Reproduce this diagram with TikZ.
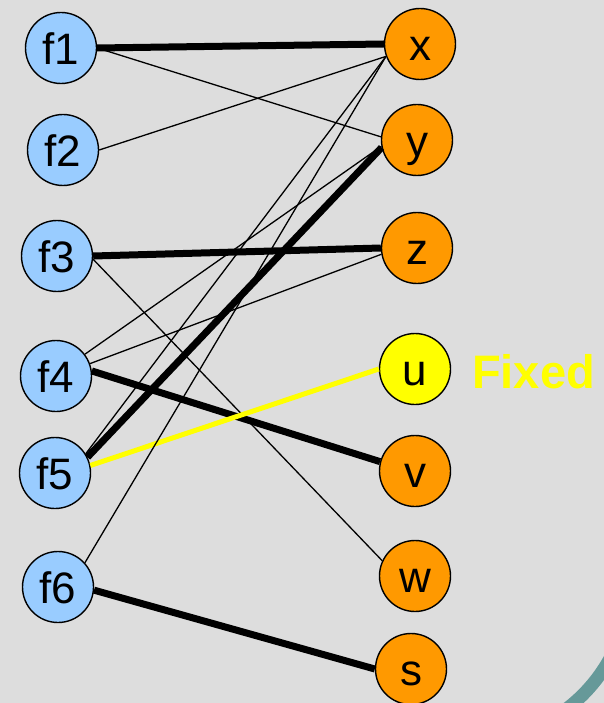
\documentclass[tikz,border=0pt]{standalone}
\usepackage{fontspec}
\setmainfont{Liberation Sans}
\begin{document}
\begin{tikzpicture}[x=1pt,y=-1pt,
  vnode/.style={circle,draw=black,line width=1.4pt,minimum size=71pt,inner sep=0pt,
    font=\fontsize{44}{44}\selectfont,text height=33pt,text depth=0pt},
  fnode/.style={vnode,fill=fblue},
  onode/.style={vnode,fill=forange},
  ynode/.style={vnode,fill=fyellow},
  thin edge/.style={draw=black,line width=1.3pt},
  thick edge/.style={draw=black,line width=7pt},
  fixed edge/.style={draw=fyellow,line width=5pt}]
\definecolor{bggray}{HTML}{DDDDDD}
\definecolor{fblue}{HTML}{99CCFF}
\definecolor{forange}{HTML}{FF9900}
\definecolor{fyellow}{HTML}{FFFF00}
\definecolor{arcteal}{HTML}{669999}

% backdrop and the arc in the lower right corner
\fill[bggray] (0,0) rectangle (604,703);
\begin{scope}
  \clip (540,620) rectangle (604,703);
  \draw[arcteal,line width=13pt] (470,582) circle (159.5pt);
\end{scope}
\useasboundingbox (0,0) rectangle (604,703);

% left column
\node[fnode] (f1) at (61,48)  {f1};
\node[fnode] (f2) at (63,150) {f2};
\node[fnode] (f3) at (57,256) {f3};
\node[fnode] (f4) at (56,376) {f4};
\node[fnode] (f5) at (55,473) {f5};
\node[fnode] (f6) at (58,587) {f6};

% right column
\node[onode] (x) at (420,44)  {x};
\node[onode] (y) at (417,140) {y};
\node[onode] (z) at (417,248) {z};
\node[ynode] (u) at (415,369) {u};
\node[onode] (v) at (415,471) {v};
\node[onode] (w) at (415,576) {w};
\node[onode] (s) at (411,669) {s};

\node[anchor=base west,text=fyellow,font=\fontsize{47}{47}\selectfont\bfseries,inner sep=0pt]
  (fixed) at (472,388) {Fixed};

% connections
\draw[thick edge] (f1.east) -- (x.west);
\draw[thin edge]  (f1.east) -- (y.175);
\draw[thin edge]  (f2.east) -- (x.200);
\draw[thick edge] (f3.east) -- (z.west);
\draw[thin edge]  (f3.-5)   -- (w.155);
\draw[thin edge]  (f4.37)   -- (y.190);
\draw[thin edge]  (f4.20)   -- (z.190);
\draw[thick edge] (f4.8)    -- (v.165);
\draw[thin edge]  (f5.32)   -- (x.200);
\draw[thick edge] (f5.26)   -- (y.192);
\draw[fixed edge] (f5.12)   -- (u.west);
\draw[thin edge]  (f6.42)   -- (x.200);
\draw[thick edge] (f6.-5)   -- (s.west);
\end{tikzpicture}
\end{document}
